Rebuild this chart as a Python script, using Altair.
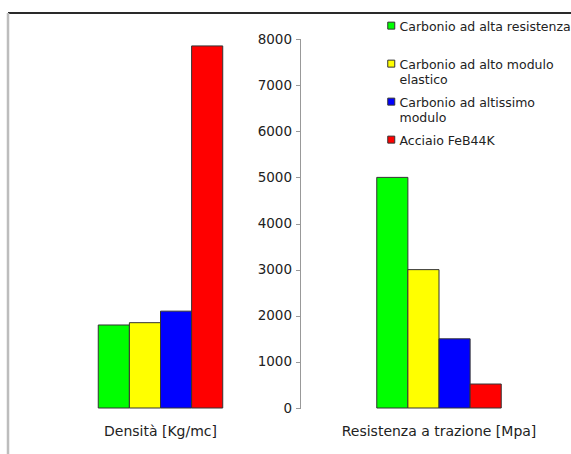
import altair as alt
import pandas as pd

groups = ["Densità [Kg/mc]", "Resistenza a trazione [Mpa]"]
materials = [
    "Carbonio ad alta resistenza",
    "Carbonio ad alto modulo elastico",
    "Carbonio ad altissimo modulo",
    "Acciaio FeB44K",
]
densita = [1800, 1850, 2100, 7850]
resistenza = [5000, 3000, 1500, 520]
colors = ["#00ff00", "#ffff00", "#0000ff", "#ff0000"]
legend_lines = [
    ["Carbonio ad alta resistenza", ""],
    ["Carbonio ad alto modulo", "elastico"],
    ["Carbonio ad altissimo", "modulo"],
    ["Acciaio FeB44K"],
]
y_ticks = [0, 1000, 2000, 3000, 4000, 5000, 6000, 7000, 8000]

rows = []
for m, d, r in zip(materials, densita, resistenza):
    rows.append({"gruppo": groups[0], "materiale": m, "valore": d})
    rows.append({"gruppo": groups[1], "materiale": m, "valore": r})
df = pd.DataFrame(rows)

W, H = 563, 441
AXIS_X = 292.5

# label expression for multi-line legend labels
expr = "datum.label"
for m, lines in zip(materials, legend_lines):
    arr = "[" + ",".join("'" + s + "'" for s in lines) + "]"
    expr = f"datum.label == '{m}' ? {arr} : ({expr})"

yscale = alt.Scale(domain=[-997, 8564], nice=False, zero=False)
xscale = alt.Scale(domain=groups, range=[13.25, 570.25], paddingInner=0.553, paddingOuter=0.2765)

bars = alt.Chart(df).mark_bar(stroke="#333333", strokeWidth=1).encode(
    x=alt.X("gruppo:N", scale=xscale, sort=groups,
            axis=alt.Axis(title=None, domain=False, ticks=False, labelAngle=0,
                          labelFont="DejaVu Sans", labelFontSize=14, labelColor="#222222",
                          labelLimit=400, labelOverlap=False,
                          offset=-30, labelPadding=0)),
    xOffset=alt.XOffset("materiale:N", sort=materials,
                        scale=alt.Scale(paddingInner=0, paddingOuter=0)),
    y=alt.Y("valore:Q", scale=yscale,
            axis=alt.Axis(title=None, values=y_ticks, domain=False, grid=False,
                          offset=-AXIS_X, tickSize=5, tickColor="#999999",
                          labelFont="DejaVu Sans", labelFontSize=13.5, labelColor="#222222",
                          labelPadding=4, format="d")),
    color=alt.Color("materiale:N", sort=materials,
                    scale=alt.Scale(domain=materials, range=colors),
                    legend=alt.Legend(title=None, orient="none", legendX=377, legendY=2,
                                      symbolType="M-1,0.25H1V2.25H-1Z", symbolSize=49,
                                      symbolStrokeColor="#333333", symbolStrokeWidth=1,
                                      labelFont="DejaVu Sans", labelFontSize=12.5,
                                      labelColor="#222222", labelBaseline="top",
                                      labelLimit=400, rowPadding=4,
                                      labelOffset=2, labelExpr=expr)),
)

axis_line = alt.Chart(pd.DataFrame({"a": [0], "b": [8000]})).mark_rule(
    color="#999999", strokeWidth=1
).encode(
    x=alt.value(AXIS_X),
    y=alt.Y("a:Q", scale=yscale),
    y2="b:Q",
)

frame = alt.Chart(pd.DataFrame({"k": [0]}))
top_rule = frame.mark_rule(color="#2a2a2a", strokeWidth=2).encode(
    x=alt.value(0), x2=alt.value(W), y=alt.value(0)
)
left_rule = frame.mark_rule(color="#bdbdbd", strokeWidth=2.5).encode(
    x=alt.value(0), y=alt.value(0), y2=alt.value(H)
)

chart = alt.layer(bars, axis_line, top_rule, left_rule).properties(
    width=W, height=H,
    autosize=alt.AutoSizeParams(type="none"),
    padding={"left": 8, "top": 13, "right": 0, "bottom": 0},
).configure_view(stroke=None).configure(background="white")

chart.save("out.html", embed_options={"renderer": "svg", "actions": False})
